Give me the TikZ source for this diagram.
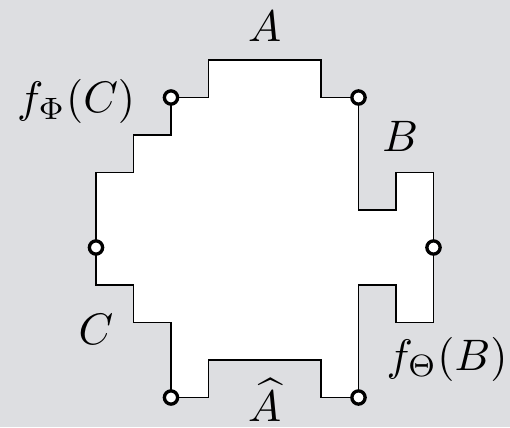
\documentclass[tikz,border=0pt]{standalone}
\usepackage{amsmath}
\definecolor{bgc}{RGB}{221,222,225}
\tikzset{
  dot/.style={circle,draw=black,fill=white,line width=0.75pt,inner sep=0pt,minimum size=3pt},
  lbl/.style={anchor=base,inner sep=0pt}
}
\begin{document}
\begin{tikzpicture}[x=8.5pt,y=8.5pt]
\fill[bgc] (-2.56,-0.787) rectangle (11.04,10.6);
\useasboundingbox (-2.56,-0.787) rectangle (11.04,10.6);
\coordinate (p1) at (2,8);
\coordinate (p2) at (7,8);
\coordinate (p3) at (9,4);
\coordinate (p4) at (7,0);
\coordinate (p5) at (2,0);
\coordinate (p6) at (0,4);
\filldraw[fill=white,draw=black,line width=0.45pt]
  (p1) -- (3,8) -- (3,9) -- (6,9) -- (6,8) -- (p2) -- (7,5) -- (8,5) -- (8,6) -- (9,6)
  -- (p3) -- (9,2) -- (8,2) -- (8,3) -- (7,3) -- (p4) -- (6,0) -- (6,1) -- (3,1) -- (3,0)
  -- (p5) -- (2,2) -- (1,2) -- (1,3) -- (0,3) -- (p6) -- (0,6) -- (1,6) -- (1,7) -- (2,7) -- cycle;
\foreach \p in {p1,p2,p3,p4,p5,p6} \node[dot] (d\p) at (\p) {};
\node[lbl] (lA) at (4.5,9.49) {$A$};
\node[lbl] (lAh) at (4.5,-0.645) {$\widehat{A}$};
\node[lbl] (lB) at (8.11,6.55) {$B$};
\node[lbl] (lC) at (0,1.4) {$C$};
\node[lbl] (lfC) at (-0.53,7.59) {$f_\Phi(C)$};
\node[lbl] (lfB) at (9.36,0.73) {$f_\Theta(B)$};
\end{tikzpicture}
\end{document}
